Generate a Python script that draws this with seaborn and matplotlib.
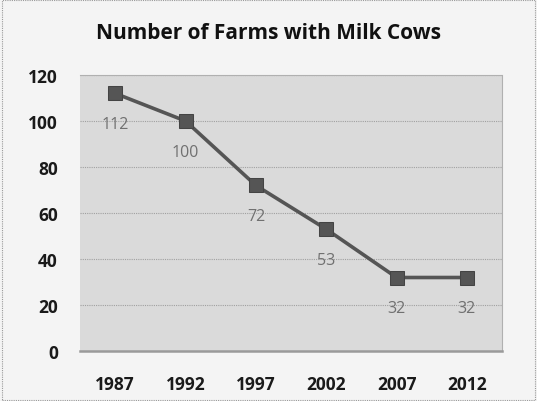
import pandas as pd
import matplotlib.pyplot as plt
import seaborn as sns

# ── Data ───────────────────────────────────────────────────────────────
years = ['1987', '1992', '1997', '2002', '2007', '2012']
farms = [112, 100, 72, 53, 32, 32]

df = pd.DataFrame({'year': years, 'farms': farms})

# ── Style ──────────────────────────────────────────────────────────────
sns.set_style('white')
plt.rcParams['font.family'] = ['Open Sans', 'DejaVu Sans']

fig = plt.figure(figsize=(5.37, 4.02), dpi=100)
fig.patch.set_facecolor('#f4f4f4')
ax = fig.add_axes([0.149, 0.124, 0.786, 0.687])
ax.set_facecolor('#dadada')

# horizontal gridlines
for v in range(20, 121, 20):
    ax.axhline(v, color='#a0a0a0', lw=0.8, ls=(0, (1, 1)), zorder=1)

sns.lineplot(data=df, x='year', y='farms', ax=ax, color='#555555', lw=2.6,
             marker='s', markersize=9.5, markeredgecolor='#444444',
             markerfacecolor='#555555', sort=False, zorder=3)

# data labels below each point
for i, v in enumerate(farms):
    ax.annotate(str(v), (i, v), xytext=(0, -22), textcoords='offset points',
                ha='center', va='center', fontsize=11.5, color='#707070')

ax.set_ylim(0, 120)
ax.set_xlim(-0.5, 5.5)
ax.set_yticks(range(0, 121, 20))
ax.set_xlabel('')
ax.set_ylabel('')
ax.tick_params(axis='both', length=0, labelsize=12.5)
for lab in ax.get_xticklabels() + ax.get_yticklabels():
    lab.set_fontweight('bold')
    lab.set_color('#1a1a1a')
ax.tick_params(axis='x', pad=17)
ax.tick_params(axis='y', pad=16)

for side in ['top', 'right']:
    ax.spines[side].set_color('#b0b0b0')
    ax.spines[side].set_linestyle((0, (1, 1)))
    ax.spines[side].set_linewidth(0.8)
ax.spines['left'].set_visible(False)
ax.spines['bottom'].set_color('#9a9a9a')
ax.spines['bottom'].set_linewidth(1.8)

fig.text(0.5, 0.917, 'Number of Farms with Milk Cows', ha='center',
         va='center', fontsize=15, fontweight='bold', color='#111111')

# dotted outer border
border = plt.Rectangle((0.003, 0.003), 0.994, 0.994, transform=fig.transFigure,
                       fill=False, ec='#999999', lw=0.8, ls=(0, (1, 1)))
fig.add_artist(border)

plt.savefig('out.png', dpi=100)
